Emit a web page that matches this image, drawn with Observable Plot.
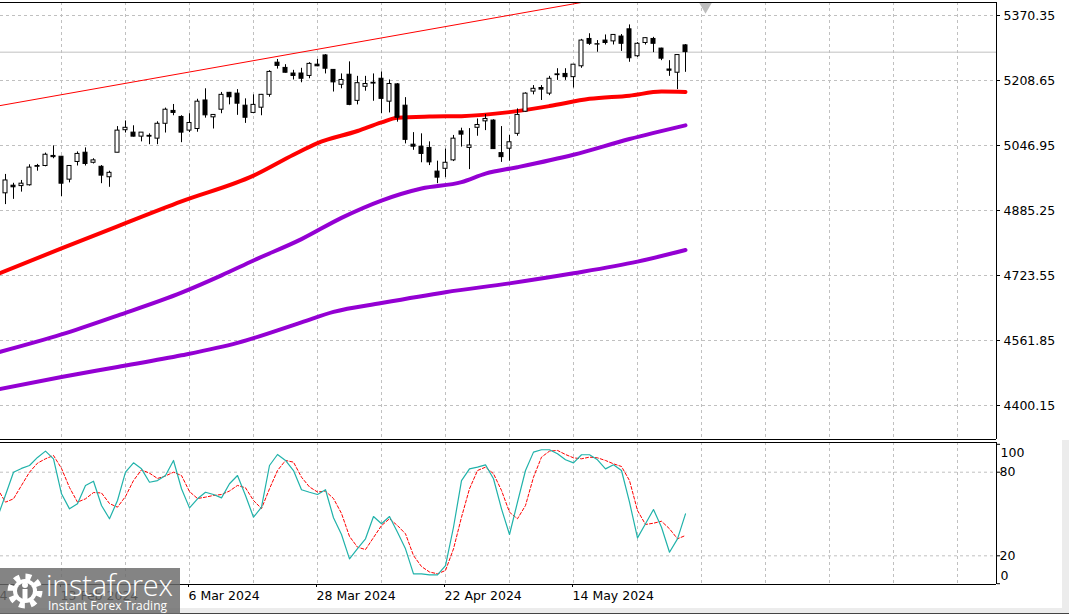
<!DOCTYPE html>
<html><head><meta charset="utf-8">
<script src="https://cdn.jsdelivr.net/npm/d3@7"></script>
<script src="https://cdn.jsdelivr.net/npm/@observablehq/plot@0.6"></script>
<style>
body{margin:0;background:#fff;}
#wrap{position:relative;width:1069px;height:614px;overflow:hidden;background:#fff;font-family:"DejaVu Sans",sans-serif;}
#main,#stoch{position:absolute;left:0;}
#main{top:0}
#stoch{top:440px}
#wm{position:absolute;left:0;top:568px;width:180px;height:46px;background:rgba(105,105,105,0.82);color:#fff;}
#wm .big{position:absolute;left:46px;top:-3px;font:300 29px "Open Sans",sans-serif;letter-spacing:-0.3px;white-space:nowrap;}
#wm .small{position:absolute;left:48px;top:29px;font:12px "Open Sans",sans-serif;white-space:nowrap;}
#bottomband{position:absolute;left:0;top:608px;width:1069px;height:6px;background:#ececec;border-bottom:1px solid #444;box-sizing:border-box;}
#rightband{position:absolute;left:1062px;top:440px;width:7px;height:174px;background:#ececec;}
</style></head><body>
<div id="wrap">
  <div id="rightband"></div>
  <div id="bottomband"></div>
  <div id="main"></div>
  <div id="stoch"></div>
  <div id="wm">
    <svg width="44" height="46" style="position:absolute;left:4px;top:0">
      <circle cx="21" cy="23" r="14" fill="none" stroke="#fff" stroke-width="7" stroke-dasharray="5.5 5.5"/>
      <circle cx="21" cy="23" r="12" fill="#fff"/>
      <circle cx="21" cy="23" r="8" fill="#7a7a7a"/>
      <circle cx="21" cy="17" r="3" fill="#fff"/>
      <rect x="18.5" y="21" width="5" height="13" fill="#fff"/>
    </svg>
    <div class="big">instaforex</div>
    <div class="small">Instant Forex Trading</div>
  </div>
</div>
<script>
// ---------- Daily candles (US500), bar index 0..85 ----------
const opens = [4928,4947,4946,4948,4994,4996,5021,5019,4962,5006,
5029,5004,4994,4968,5029,5085,5079,5069,5071,5064,
5101,5133,5118,5084,5088,5159,5117,5136,5178,5176,
5146,5128,5141,5173,5253,5240,5226,5226,5220,5248,
5271,5235,5198,5223,5158,5193,5201,5213,5156,5199,
5146,5049,5044,5041,4982,4989,5010,5082,5041,5091,
5107,5109,5028,5039,5076,5131,5181,5190,5176,5222,
5225,5217,5244,5312,5298,5308,5306,5318,5336,5269,
5302,5312,5288,5236,5228,5296];
const highs = [4975,4953,4960,4999,5000,5028,5046,5020,4997,5031,
5041,5014,4997,4983,5094,5108,5096,5079,5076,5106,
5140,5149,5121,5126,5162,5188,5124,5179,5179,5186,
5163,5173,5174,5233,5261,5248,5234,5239,5253,5261,
5273,5236,5225,5255,5219,5219,5225,5230,5210,5201,
5166,5079,5076,5056,5008,5038,5072,5090,5089,5113,
5124,5111,5094,5072,5138,5178,5196,5196,5219,5238,
5238,5248,5311,5325,5308,5322,5323,5323,5347,5303,
5315,5316,5289,5258,5273,5298];
const lows = [4900,4913,4931,4946,4983,4994,5014,4920,4954,4996,
4996,5001,4952,4943,5029,5078,5068,5056,5049,5049,
5078,5121,5054,5079,5080,5115,5088,5126,5148,5122,
5102,5126,5121,5167,5237,5227,5210,5203,5213,5243,
5225,5180,5188,5146,5148,5182,5157,5126,5128,5105,
5051,5035,5004,4997,4952,4967,5007,5043,4987,5070,
5084,5037,5005,5008,5070,5129,5173,5159,5171,5209,
5209,5190,5239,5296,5279,5297,5297,5281,5254,5266,
5297,5278,5258,5219,5186,5229];
const closes = [4960,4943,4952,4992,4996,5024,5018,4952,4996,5026,
5001,5010,4972,4979,5084,5091,5069,5079,5069,5101,
5136,5128,5079,5103,5156,5122,5123,5173,5167,5151,
5116,5148,5173,5230,5245,5228,5220,5213,5250,5244,
5238,5204,5210,5148,5202,5200,5203,5163,5200,5116,
5061,5044,5026,5005,4967,5004,5064,5074,5047,5098,
5113,5038,5018,5055,5123,5176,5188,5186,5213,5224,
5217,5248,5308,5300,5299,5302,5322,5300,5264,5300,
5314,5300,5263,5233,5272,5279.15];

// ---------- Moving averages (bar index / value) ----------
const maRedIdx  = [-1,7,14,22,31,36,39,44,47,49,53,57,63,68,73,78,82,85];
const maRedVal  = [4727,4791,4846,4908,4972,5024,5053,5083,5104.5,5116,5119,5120,5130,5145,5163,5171,5181,5180];
const maMidIdx  = [-1,7,14,22,27,31,37,42,47,52,57,60,64,71,78,85];
const maMidVal  = [4532,4577,4624,4681,4724,4761,4814,4867,4910,4940,4956,4977,4993,5024,5063,5097];
const maLowIdx  = [-1,7,14,22,29,37,41,47,55,63,71,79,85];
const maLowVal  = [4440,4471,4496,4525,4556,4607,4633,4655,4682,4704,4729,4758,4787];

// ---------- Trend line ----------
const trendIdx = [-1, 72];
const trendVal = [5145.1, 5402.8];

// ---------- Stochastic (index -1..85) ----------
const stochStart = -1;
const stochK = [47.8,
63.6,80.0,82.7,84.8,90.6,95.1,89.6,64.5,53.7,57.3,
70.5,73.5,56.1,46.6,59.7,80.0,86.7,82.4,72.8,74.0,
77.6,88.4,68.1,54.4,60.9,65.6,64.0,61.6,71.7,77.6,
63.3,47.7,54.9,84.8,92.7,88.4,81.2,67.4,65.6,64.0,
67.4,47.3,35.3,17.8,25.2,32.2,48.2,43.0,48.2,36.9,
25.0,7.1,7.1,6.4,6.4,13.0,40.5,74.0,82.4,83.6,
85.3,75.3,53.7,35.3,58.5,81.2,94.4,96.1,96.1,93.2,
88.9,86.7,92.5,92.5,88.9,82.4,85.3,81.2,58.5,32.9,
43.0,53.2,40.5,22.6,32.2,50.1];
const stochD = [68.1,
58.5,60.9,70.5,80.0,86.5,89.6,92.0,82.7,69.0,58.5,
60.9,65.4,65.1,57.5,54.9,62.6,74.0,81.7,79.3,75.5,
77.3,80.0,77.6,66.1,61.1,62.1,63.3,64.0,66.5,70.5,
68.8,59.7,53.9,68.1,81.2,88.4,87.2,76.4,69.4,65.8,
66.4,61.1,50.4,33.9,26.2,24.5,33.1,41.7,46.6,41.7,
35.8,20.2,12.3,8.4,7.1,9.5,25.0,47.7,68.1,81.2,
83.6,78.9,66.9,51.3,46.6,56.1,76.4,90.8,95.1,95.6,
92.7,90.3,89.6,90.8,90.3,88.4,86.0,84.1,74.0,52.5,
42.5,43.4,44.8,39.4,32.2,34.6];
const stochLevels = [80, 20];

// ---------- Axes ----------
const yTicks = [5370.35, 5208.65, 5046.95, 4885.25, 4723.55, 4561.85, 4400.15];
const gridIdx = [7,15,23,31,39,47,55,63,71,79,87,95,103,111,119];
const dateIdx = [-9, 7, 23, 39, 55, 71];
const dateLabels = ["22 Jan 2024","13 Feb 2024","6 Mar 2024","28 Mar 2024","22 Apr 2024","14 May 2024"];
const xDomain = [-0.625, 123.875];
const yDomain = [4315.6, 5402.7];
const stochDomain = [-0.57, 101.3];
const shiftMarker = [87.5];

// ---------- build ----------
const candles = opens.map((o, i) => ({i, open: o, high: highs[i], low: lows[i], close: closes[i]}));
const toPts = (idx, val) => idx.map((i, k) => ({i, v: val[k]}));
const lastClose = closes[closes.length - 1];
const grid = {stroke: "#c0c0c0", strokeOpacity: 1, strokeDasharray: "3,3"};
const font = {fontFamily: "DejaVu Sans, sans-serif", fontSize: "12px", background: "transparent", color: "black", overflow: "hidden"};

const main = Plot.plot({
  width: 1069, height: 440,
  marginLeft: 0, marginRight: 73, marginTop: 2, marginBottom: 1,
  x: {domain: xDomain, axis: null},
  y: {domain: yDomain},
  style: font,
  marks: [
    Plot.gridY(yTicks, grid),
    Plot.gridX(gridIdx, grid),
    Plot.ruleY([lastClose], {stroke: "#c0c0c0"}),
    Plot.line(toPts(maLowIdx, maLowVal), {x: "i", y: "v", stroke: "#9400d3", strokeWidth: 4, curve: "monotone-x", clip: true}),
    Plot.line(toPts(maMidIdx, maMidVal), {x: "i", y: "v", stroke: "#9400d3", strokeWidth: 4, curve: "monotone-x", clip: true}),
    Plot.line(toPts(maRedIdx, maRedVal), {x: "i", y: "v", stroke: "#ff0000", strokeWidth: 4, curve: "monotone-x", clip: true}),
    Plot.line(toPts(trendIdx, trendVal), {x: "i", y: "v", stroke: "#ff0000", strokeWidth: 1, clip: true}),
    Plot.ruleX(candles, {x: "i", y1: "low", y2: "high", stroke: "black", strokeWidth: 1}),
    Plot.rect(candles, {x1: d => d.i - 0.25, x2: d => d.i + 0.25, y1: "open", y2: "close",
      fill: d => d.close >= d.open ? "white" : "black", stroke: "black", strokeWidth: 1}),
    Plot.dot(shiftMarker, {x: d => d, frameAnchor: "top", symbol: "triangle", r: 4.6, rotate: 180, fill: "#bdbdbd", dy: 4}),
    Plot.ruleY([yDomain[1]], {stroke: "black"}),
    Plot.ruleY([yDomain[0]], {stroke: "black"}),
    Plot.ruleX([xDomain[1]], {stroke: "black"}),
    Plot.axisY(yTicks, {anchor: "right", tickSize: 3, tickPadding: 4, tickFormat: d => d.toFixed(2), label: null, fontSize: 12.5}),
    Plot.text([lastClose], {y: d => d, text: d => d.toFixed(2), frameAnchor: "right", textAnchor: "start", dx: 7, fill: "white", fontSize: 12.5})
  ]
});
document.getElementById("main").appendChild(main);
// black box behind the current price label
d3.select(main).selectAll("text").filter(function() { return this.textContent === lastClose.toFixed(2) && this.getAttribute("fill") === "white"; })
  .each(function() {
    const b = this.getBBox();
    const t = this.getAttribute("transform");
    const g = this.parentNode;
    const r = document.createElementNS("http://www.w3.org/2000/svg", "rect");
    r.setAttribute("x", b.x - 4); r.setAttribute("y", b.y - 0.5);
    r.setAttribute("width", 63); r.setAttribute("height", b.height + 1);
    r.setAttribute("fill", "black");
    if (t) r.setAttribute("transform", t);
    g.insertBefore(r, this);
  });

const stochPts = (arr) => arr.map((v, k) => ({i: k + stochStart, v}));
const stoch = Plot.plot({
  width: 1069, height: 174,
  marginLeft: 0, marginRight: 73, marginTop: 2, marginBottom: 30,
  x: {domain: xDomain},
  y: {domain: stochDomain},
  style: font,
  marks: [
    Plot.gridY(stochLevels, grid),
    Plot.gridX(gridIdx, grid),
    Plot.line(stochPts(stochD), {x: "i", y: "v", stroke: "#ff0000", strokeWidth: 1, strokeDasharray: "3,2", clip: true}),
    Plot.line(stochPts(stochK), {x: "i", y: "v", stroke: "#20b2aa", strokeWidth: 1.2, clip: true}),
    Plot.ruleY([stochDomain[1]], {stroke: "black"}),
    Plot.ruleY([stochDomain[0]], {stroke: "black"}),
    Plot.ruleX([xDomain[1]], {stroke: "black"}),
    Plot.axisY([100, 80, 20, 0], {anchor: "right", tickSize: 3, tickFormat: () => "", label: null}),
    Plot.text(stochLevels, {y: d => d, text: d => String(d), frameAnchor: "right", textAnchor: "start", dx: 3, fontSize: 12.5}),
    Plot.text([100], {y: d => d, text: d => String(d), frameAnchor: "right", textAnchor: "start", dx: 4, dy: 9, fontSize: 12.5}),
    Plot.text([0], {y: d => d, text: d => String(d), frameAnchor: "right", textAnchor: "start", dx: 4, dy: -8, fontSize: 12.5}),
    Plot.axisX(dateIdx, {anchor: "bottom", tickSize: 3, tickPadding: 4, tickFormat: i => dateLabels[dateIdx.indexOf(i)], textAnchor: "start", dx: -1, label: null, fontSize: 12.5})
  ]
});
document.getElementById("stoch").appendChild(stoch);
</script>
</body></html>
